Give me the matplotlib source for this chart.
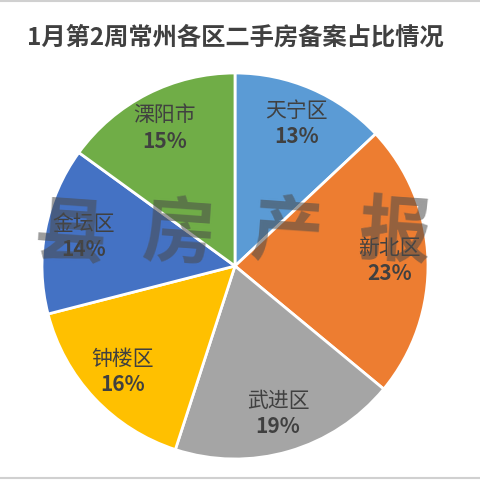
import matplotlib
matplotlib.use("Agg")
import matplotlib.pyplot as plt
from matplotlib.transforms import offset_copy

plt.rcParams['font.family'] = ['Noto Sans CJK SC', 'DejaVu Sans']

# data (clockwise from 12 o'clock)
districts = ['天宁区', '新北区', '武进区', '钟楼区', '金坛区', '溧阳市']
shares = [13, 23, 19, 16, 14, 15]
colors = ['#5B9BD5', '#ED7D31', '#A5A5A5', '#FFC000', '#4472C4', '#70AD47']
title = '1月第2周常州各区二手房备案占比情况'
watermark = '县房产报'

fig = plt.figure(figsize=(4.8, 4.8), dpi=100)
fig.patch.set_facecolor('white')

# pie axes: centre ~ (235, 266) px, radius ~193 px
ax = fig.add_axes([42 / 480, 21 / 480, 386 / 480, 386 / 480])
wedges, names, pcts = ax.pie(
    shares, colors=colors, startangle=90, counterclock=False,
    labels=districts, labeldistance=0.8,
    autopct='%1.0f%%', pctdistance=0.8,
    wedgeprops=dict(edgecolor='white', linewidth=2),
    textprops=dict(color='#404040', fontsize=15))
for t in names:
    t.set_va('bottom')
    t.set_ha('center')
    t.set_transform(offset_copy(t.get_transform(), fig=fig, y=1.5, units='points'))
for t in pcts:
    t.set_va('top')
    t.set_fontweight('bold')
    t.set_transform(offset_copy(t.get_transform(), fig=fig, y=-1.5, units='points'))
ax.set_xlim(-1, 1)
ax.set_ylim(-1, 1)
ax.set_aspect('equal')
ax.axis('off')

fig.text(235 / 480, 1 - 38 / 480, title, ha='center', va='center',
         fontsize=17.5, fontweight='bold', color='#404040')

# watermark across the middle
for i, ch in enumerate(watermark):
    fig.text((70 + i * 108) / 480, 1 - 235 / 480, ch, ha='center', va='center',
             fontsize=52, fontweight='bold', color='#4a4a4a', alpha=0.55,
             rotation=-4)

# thin grey lines at top and bottom edges
fig.add_artist(plt.Line2D([0, 1], [0.998, 0.998], color='#d0d0d0', lw=1.5))
fig.add_artist(plt.Line2D([0, 1], [0.004, 0.004], color='#d0d0d0', lw=1.5))

fig.savefig('out.png', dpi=100, facecolor='white')
